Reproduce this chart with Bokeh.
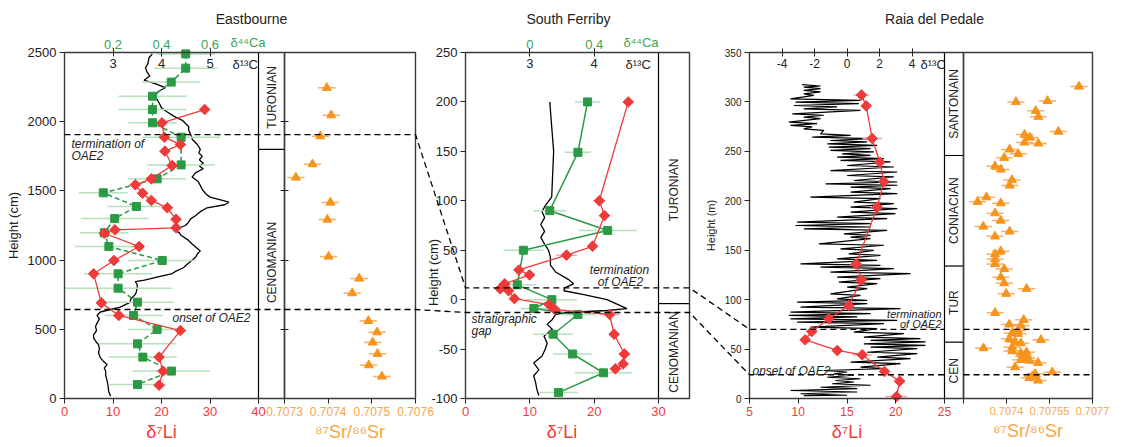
import math
from bokeh.plotting import figure
from bokeh.models import Range1d, LinearAxis, FixedTicker
from bokeh.embed import file_html
from bokeh.resources import INLINE
from bokeh.core.properties import value

FONT = "Liberation Sans"
RED, RED_L = "#ee3a3a", "#f6a0a0"
GREEN, GREEN_L, GREEN_T = "#2a9a45", "#b5e0bc", "#3aa655"
ORANGE, ORANGE_L, ORANGE_T = "#f7941d", "#f9b060", "#f7a548"
BOX = "#3a3a3a"

# ---------------- Eastbourne ----------------
e_li_h = [2088, 1992, 1888, 1835, 1787, 1683, 1587, 1544, 1483, 1431, 1378, 1295,
          1233, 1219, 1194, 1098, 997, 901, 691, 600, 491, 299, 198, 96]
e_li = [28.9, 20.1, 20.6, 23.9, 20.7, 22.2, 17.9, 14.6, 16.1, 17.9, 21.2, 23.0,
        23.0, 10.4, 8.2, 15.4, 10.2, 6.0, 7.6, 11.2, 23.9, 19.5, 20.3, 19.5]
e_ca_h = [2490, 2387, 2286, 2184, 2088, 1992, 1888, 1688, 1587, 1486, 1387, 1300,
          1197, 1098, 997, 901, 797, 696, 600, 499, 395, 299, 198, 101]
e_ca = [0.50, 0.50, 0.44, 0.363, 0.363, 0.363, 0.481, 0.481, 0.382, 0.16, 0.297, 0.207,
        0.164, 0.183, 0.403, 0.221, 0.221, 0.301, 0.285, 0.382, 0.301, 0.323, 0.441, 0.301]
e_ca_err = [0.12, 0.13, 0.12, 0.14, 0.14, 0.10, 0.16, 0.14, 0.12, 0.10, 0.12, 0.14,
            0.10, 0.14, 0.14, 0.14, 0.22, 0.15, 0.12, 0.12, 0.16, 0.14, 0.16, 0.12]
e_c13_h = [2490, 2460, 2420, 2390, 2360, 2330, 2300, 2270, 2245, 2220,
           2190, 2166, 2130, 2100, 2070, 2040, 2010, 1985, 1965, 1940,
           1907, 1870, 1835, 1800, 1775, 1750, 1725, 1700, 1680, 1660,
           1630, 1600, 1570, 1540, 1510, 1480, 1455, 1435, 1418, 1400,
           1378, 1350, 1320, 1298, 1270, 1250, 1230, 1215, 1200, 1180,
           1150, 1120, 1090, 1065, 1050, 1020, 990, 970, 945, 920,
           900, 880, 855, 845, 820, 800, 770, 752, 715, 696,
           660, 625, 600, 575, 550, 520, 490, 460, 438, 410,
           390, 360, 330, 294, 270, 246, 220, 197, 165, 125,
           90, 53, 17]
e_c13 = [3.81, 3.74, 3.72, 3.67, 3.70, 3.76, 3.64, 3.91, 4.08, 3.94,
         3.87, 3.90, 3.96, 4.00, 4.12, 4.25, 4.43, 4.50, 4.56, 4.56,
         4.60, 4.64, 4.74, 4.80, 4.77, 4.84, 4.78, 4.86, 4.78, 4.86,
         4.70, 4.63, 4.75, 4.80, 4.84, 4.91, 5.00, 5.22, 5.39, 5.30,
         4.94, 4.80, 4.70, 4.60, 4.55, 4.49, 4.36, 4.25, 4.36, 4.40,
         4.53, 4.62, 4.72, 4.80, 4.75, 4.70, 4.60, 4.53, 4.45, 4.30,
         4.20, 3.95, 3.65, 3.46, 3.50, 3.50, 3.48, 3.46, 3.36, 3.36,
         3.15, 2.74, 2.67, 2.72, 2.68, 2.64, 2.66, 2.60, 2.60, 2.65,
         2.70, 2.72, 2.70, 2.74, 2.80, 2.88, 2.82, 2.85, 2.85, 2.88,
         2.90, 2.91, 2.95]
e_sr_h = [2245, 2047, 1895, 1693, 1597, 1416, 1293, 1026, 867, 761, 561, 479, 405, 323, 241, 159]
e_sr = [0.707397, 0.707407, 0.707382, 0.707364, 0.707326, 0.707405, 0.707398, 0.707401,
        0.707471, 0.707455, 0.707492, 0.707512, 0.707502, 0.707513, 0.707493, 0.707523]
e_sr_err = 0.00002
e_stage_bounds = [1800]
e_stages = [("TURONIAN", 2175), ("CENOMANIAN", 983)]
e_termination, e_onset = 1907, 643

# ---------------- South Ferriby ----------------
sf_li_h = [200, 100, 85, 54, 45, 30, 25, 16, 11, 9, 1, -5, -10, -15, -35, -55, -65, -70]
sf_li = [25.3, 20.8, 21.6, 19.75, 15.7, 8.3, 9.95, 6.1, 5.4, 6.7, 7.6, 13.0, 13.9, 22.4, 23.1, 24.7, 24.5, 23.3]
sf_li_err = [0.6, 0.9, 0.5, 0.5, 1.6, 0.6, 0.5, 0.5, 0.9, 0.5, 0.5, 0.5, 0.5, 1.5, 0.5, 0.9, 0.6, 0.5]
sf_ca_h = [200, 149, 90, 70, 50, 15, 0, -9, -15, -35, -55, -74, -94]
sf_ca = [0.359, 0.299, 0.124, 0.484, -0.04, -0.078, 0.137, 0.025, 0.299, 0.145, 0.266, 0.458, 0.178]
sf_ca_err = [0.078, 0.081, 0.104, 0.18, 0.124, 0.117, 0.156, 0.083, 0.109, 0.122, 0.122, 0.178, 0.12]
sf_c13_h = [200, 150, 104, 94, 89, 83, 76, 69, 63, 56, 50, 43, 35, 28, 20, 16, 12, 9, 5, 0,
            -7, -9, -11, -13, -15, -20, -25, -30, -37, -44, -50, -57, -64, -71, -77, -84, -91, -97]
sf_c13 = [3.31, 3.37, 3.34, 3.23, 3.19, 3.23, 3.17, 3.23, 3.17, 3.23, 3.29, 3.32, 3.32, 3.40, 3.61, 3.68,
          3.54, 3.53, 3.84, 4.20, 4.44, 4.51, 4.20, 3.58, 3.40, 3.35, 3.27, 3.35, 3.22, 3.27, 3.24, 3.19,
          3.06, 3.14, 3.06, 3.09, 3.11, 3.14]
sf_stage_bounds = [-4]
sf_stages = [("TURONIAN", 111), ("CENOMANIAN", -53)]
sf_termination, sf_gap = 12, -13

# ---------------- Raia del Pedale ----------------
r_li_h = [307, 296, 263, 239, 219.5, 193.5, 136, 120, 94, 80.6, 67.8, 59.4, 48.6, 44.2, 27.3, 17.5, 2]
r_li = [16.49, 16.97, 17.58, 18.37, 18.78, 18.1, 15.94, 16.46, 15.18, 13.13, 11.39, 10.71, 14.0, 16.56, 18.85, 20.4, 20.08]
r_li_err = [0.8, 0.4, 1.0, 0.3, 0.3, 0.6, 0.6, 0.3, 0.3, 0.3, 0.3, 0.3, 0.3, 1.0, 0.3, 0.3, 1.1]
r_c13_h = [317.6, 316.1, 315.0, 313.5, 311.6, 310.1, 308.2, 306.7, 303.1, 301.6, 299.8, 298.3, 296.4, 294.9,
           293.0, 291.5, 288.0, 286.5, 284.6, 283.1, 279.5, 278.0, 276.2, 274.7, 272.8, 271.3, 267.7, 266.2,
           264.4, 262.9, 261.0, 259.5, 257.6, 256.1, 254.3, 252.8, 250.9, 249.4, 247.5, 246.0, 244.1, 242.6,
           240.8, 239.3, 235.7, 234.2, 230.6, 229.1, 225.6, 224.1, 220.5, 219.0, 217.2, 215.7, 213.8, 212.3,
           208.7, 207.2, 203.7, 202.2, 198.6, 197.1, 193.5, 192.0, 188.5, 187.0, 183.4, 181.9, 178.4, 176.9,
           175.0, 173.5, 171.6, 170.1, 166.6, 165.1, 163.2, 161.7, 156.5, 155.0, 151.4, 149.9, 146.3, 144.8,
           141.3, 139.8, 136.2, 134.7, 132.9, 131.4, 127.8, 126.3, 122.7, 121.2, 117.7, 116.2, 112.6, 111.1,
           105.9, 104.4, 100.8, 99.3, 97.4, 95.9, 92.4, 90.9, 87.3, 85.8, 84.0, 82.5, 80.6, 79.1, 77.2, 75.7,
           72.1, 70.6, 67.1, 65.6, 62.0, 60.5, 58.7, 57.2, 55.3, 53.8, 51.9, 50.4, 46.8, 45.3, 41.8, 40.3,
           36.7, 35.2, 31.7, 30.2, 28.3, 26.8, 25.0, 23.5, 21.5, 20.0, 18.2, 16.7, 14.9, 13.4, 11.4, 9.9,
           8.1, 6.6, 4.8, 3.3, 3.0]
r_c13 = [-2.76, -1.63, -2.66, -1.63, -2.66, -1.63, -2.66, -2.04, -3.48, 0.83, -3.17, 0.73, -3.27, -0.61,
         -2.66, 0.83, -3.37, -1.43, -2.66, -1.63, -3.58, -1.84, -3.48, -2.14, -2.66, -1.43, -1.63, 0.22,
         -2.14, 1.45, -1.02, 1.24, -1.22, 1.86, -1.12, 1.45, -1.02, 1.65, -0.30, 1.45, -0.61, 2.27,
         -0.40, 2.68, 0.01, 2.88, -1.02, 3.09, 0.01, 2.88, 0.42, 3.09, -1.32, 3.09, 0.22, 2.68,
         0.22, 3.09, -2.25, 2.06, 0.42, 2.88, 0.22, 3.09, 0.22, 2.98, -0.61, 2.47, -3.07, 1.45,
         -3.17, 1.45, -2.66, 2.47, -0.19, 1.45, 0.22, 1.45, -1.73, 2.27, -0.40, 1.65, 0.11, 2.06,
         -0.61, 1.86, -2.86, 2.06, -1.63, 2.88, -1.02, 3.91, -0.61, 2.06, -0.50, 1.86, 0.01, 1.24,
         -1.02, 0.83, -0.61, 1.24, -3.07, 1.24, -2.86, 3.29, -3.48, 1.45, -3.58, 0.63, -3.48, 3.09, -3.07, 2.27,
         -2.25, 1.86, 0.42, 3.50, 1.04, 4.52, 1.45, 4.83, 1.04, 4.83, 1.45, 4.32, 1.24, 4.32, 1.86, 3.91,
         0.22, 3.29, 0.83, 2.27, -1.43, 0.01, -0.81, 0.42, -1.22, 0.83, -0.71, 0.42, -0.91, 1.45, -1.63, 0.63,
         -3.48, 0.63, -2.86, 0.01, -2.66]
r_sr_h = [315.6, 301, 300, 291, 285, 270, 267, 264, 259, 258, 252, 247.5, 243.5, 235, 231.7, 221, 215.5,
          203.6, 199, 197.6, 187.5, 180, 174, 169, 164, 149, 146, 141, 136, 131, 122.7, 116.7, 111, 106,
          86.7, 79.6, 74.9, 73.8, 68.8, 66.1, 65.4, 59.3, 60.4, 57, 56, 50.9, 51.9, 47.9, 45.9, 46.9,
          42.5, 41.1, 39.1, 38.4, 36.1, 31.7, 26.6, 25, 20.9, 18.2, 22.3]
r_sr = [0.707653, 0.707543, 0.707433, 0.707502, 0.707511, 0.707581, 0.707463, 0.707482, 0.707463, 0.707511,
        0.707411, 0.707441, 0.707392, 0.70736, 0.70738, 0.707419, 0.707411, 0.70733, 0.707299, 0.70738,
        0.70736, 0.70738, 0.707319, 0.707411, 0.70736, 0.70738, 0.70736, 0.70736, 0.70736, 0.707392,
        0.70738, 0.707392, 0.70747, 0.707399, 0.70736, 0.70746, 0.70741, 0.70745, 0.70744, 0.70742,
        0.70744, 0.70752, 0.70741, 0.70743, 0.70745, 0.70732, 0.70742, 0.70742, 0.70745, 0.70747,
        0.70746, 0.70747, 0.70745, 0.70748, 0.70751, 0.70743, 0.70756, 0.70750, 0.70748, 0.70751, 0.70749]
r_sr_err = 0.00003
r_stage_bounds = [245.8, 134, 57]
r_stages = [("SANTONAIN", 298), ("CONIACIAN", 190), ("TUR", 97), ("CEN", 28)]
r_termination, r_onset = 70, 24

# ---------------- layout (page pixels; canvas sits at the page's top-left) ----------------
X0, X1, Y0, Y1 = 0, 1122, 0, 446
G = {
    "eli": (0, 64, 40, 258), "eca": (0, 64, 0.8, 258), "ec13": (2, 64, 6, 258),
    "esr": (0.7073, 284, 0.7076, 415), "eh": (0, 398, 2500, 52),
    "sli": (0, 465, 30, 658), "sca": (-0.4, 465, 0.8, 658), "sc13": (2, 465, 5, 658),
    "sh": (-100, 398, 250, 52),
    "rli": (5, 749, 25, 944), "rc13": (-6, 749, 6, 944), "rsr": (0.70725, 963, 0.7077, 1092),
    "rh": (0, 398, 350, 52),
}
XN = ["eli", "eca", "ec13", "esr", "sli", "sca", "sc13", "rli", "rc13", "rsr"]
YN = ["eh", "sh", "rh"]


def to_px(name, d):
    d0, p0, d1, p1 = G[name]
    return p0 + (d - d0) * (p1 - p0) / (d1 - d0)


def to_data(name, px):
    d0, p0, d1, p1 = G[name]
    return d0 + (px - p0) * (d1 - d0) / (p1 - p0)


p = figure(width=X1 - X0, height=Y1 - Y0, x_range=Range1d(X0, X1), y_range=Range1d(Y1, Y0),
           x_axis_type=None, y_axis_type=None, toolbar_location=None, output_backend="svg",
           min_border=0, outline_line_color=None, background_fill_color="white",
           border_fill_color="white")
p.extra_x_ranges = {k: Range1d(to_data(k, X0), to_data(k, X1)) for k in XN}
p.extra_y_ranges = {k: Range1d(to_data(k, Y1), to_data(k, Y0)) for k in YN}


def axis(side, xn, yn, ticks, fixed, bounds="auto", color="#222", size="13px", overrides=None,
         tin=0, tout=5, standoff=3, tick_color="#222", label=None, label_color="#222",
         label_size="17px", label_standoff=3):
    ax = LinearAxis(x_range_name=xn, y_range_name=yn, ticker=FixedTicker(ticks=ticks),
                    fixed_location=fixed, bounds=bounds, axis_line_color=None,
                    major_tick_in=tin, major_tick_out=tout, major_tick_line_color=tick_color,
                    major_tick_line_width=1, minor_tick_line_color=None,
                    major_label_text_color=color, major_label_text_font_size=size,
                    major_label_text_font=FONT, major_label_standoff=standoff)
    if overrides is not None:
        ax.major_label_overrides = overrides
    if label:
        ax.axis_label = label
        ax.axis_label_text_color = label_color
        ax.axis_label_text_font_size = label_size
        ax.axis_label_text_font = FONT
        ax.axis_label_text_font_style = "normal"
        ax.axis_label_standoff = label_standoff
    p.add_layout(ax, side)


def txt(x, y, s, size="12px", color="#222", align="left", baseline="middle", style="normal",
        angle=0.0, xn="default", yn="default"):
    p.text(x=[x], y=[y], text=[s], text_font=value(FONT), text_font_size=size, text_color=color,
           text_align=align, text_baseline=baseline, text_font_style=style, angle=angle,
           x_range_name=xn, y_range_name=yn)


def err(vals, errs, hs, xn, yn, color, width=1.5):
    if not isinstance(errs, list):
        errs = [errs] * len(vals)
    p.segment(x0=[v - e for v, e in zip(vals, errs)], x1=[v + e for v, e in zip(vals, errs)],
              y0=hs, y1=hs, x_range_name=xn, y_range_name=yn, line_color=color, line_width=width)


def diamonds(vals, hs, xn, yn):
    p.scatter(vals, hs, marker="square", angle=math.pi / 4, size=7.5, fill_color=RED,
              line_color=RED, x_range_name=xn, y_range_name=yn)


def squares(vals, hs, xn, yn):
    p.scatter(vals, hs, marker="square", size=8, fill_color=GREEN, line_color=GREEN,
              x_range_name=xn, y_range_name=yn)


def triangles(vals, hs, xn, yn):
    p.scatter(vals, hs, marker="triangle", size=9, fill_color=ORANGE, line_color=ORANGE,
              x_range_name=xn, y_range_name=yn)


def panel_box(xn, yn, left_px, right_px):
    d0, p0, d1, p1 = G[yn]
    p.quad(left=[to_data(xn, left_px)], right=[to_data(xn, right_px)], bottom=[d0], top=[d1],
           fill_color=None, line_color=BOX, line_width=1.4, x_range_name=xn, y_range_name=yn)


# ======== Eastbourne ========
p.line(e_c13, e_c13_h, x_range_name="ec13", y_range_name="eh", line_color="black", line_width=1.3)
err(e_ca, e_ca_err, e_ca_h, "eca", "eh", GREEN_L)
p.line(e_ca, e_ca_h, x_range_name="eca", y_range_name="eh", line_color=GREEN, line_width=1.5,
       line_dash="5 3")
squares(e_ca, e_ca_h, "eca", "eh")
p.line(e_li, e_li_h, x_range_name="eli", y_range_name="eh", line_color=RED, line_width=1.3)
diamonds(e_li, e_li_h, "eli", "eh")
err(e_sr, e_sr_err, e_sr_h, "esr", "eh", ORANGE_L)
triangles(e_sr, e_sr_h, "esr", "eh")

e_stage_r = to_data("eli", 284)
p.segment(x0=[40], x1=[40], y0=[0], y1=[2500], x_range_name="eli", y_range_name="eh",
          line_color="black", line_width=1.2)
p.segment(x0=[40] * len(e_stage_bounds), x1=[e_stage_r] * len(e_stage_bounds), y0=e_stage_bounds,
          y1=e_stage_bounds, x_range_name="eli", y_range_name="eh", line_color="black", line_width=1.2)
panel_box("eli", "eh", 64, 284)
panel_box("esr", "eh", 284, 415)
for name, h in e_stages:
    txt(to_data("eli", 271), h, name, angle=math.pi / 2, align="center", xn="eli", yn="eh")

axis("left", "eli", "eh", [0, 500, 1000, 1500, 2000, 2500], 0, (0, 2500), label="Height (cm)",
     label_size="13px", label_standoff=4)
axis("below", "eli", "eh", [0, 10, 20, 30, 40], 0, (0, 40), color=RED, label="δ⁷Li",
     label_color=RED, label_size="18px")
axis("above", "eca", "eh", [0.2, 0.4, 0.6], 2500, color=GREEN_T, tout=0, tick_color=None, standoff=4)
axis("below", "ec13", "eh", [3, 4, 5], 2500, tin=4, tout=4, standoff=2)
axis("left", "esr", "eh", [500, 1000, 1500, 2000], 0.7073, tin=4, tout=4,
     overrides={500: "", 1000: "", 1500: "", 2000: ""})
axis("below", "esr", "eh", [0.7073, 0.7074, 0.7075, 0.7076], 0, (0.7073, 0.7076), color=ORANGE_T,
     size="12px", overrides={0.7073: "0.7073", 0.7074: "0.7074", 0.7075: "0.7075", 0.7076: "0.7076"},
     label="⁸⁷Sr/⁸⁶Sr", label_color=ORANGE_T, label_size="18px")

# ======== South Ferriby ========
p.line(sf_c13, sf_c13_h, x_range_name="sc13", y_range_name="sh", line_color="black", line_width=1.3)
err(sf_ca, sf_ca_err, sf_ca_h, "sca", "sh", GREEN_L)
p.line(sf_ca, sf_ca_h, x_range_name="sca", y_range_name="sh", line_color=GREEN, line_width=1.5)
squares(sf_ca, sf_ca_h, "sca", "sh")
err(sf_li, sf_li_err, sf_li_h, "sli", "sh", RED_L)
p.line(sf_li, sf_li_h, x_range_name="sli", y_range_name="sh", line_color=RED, line_width=1.3)
diamonds(sf_li, sf_li_h, "sli", "sh")

sf_stage_r = to_data("sli", 689)
p.segment(x0=[30], x1=[30], y0=[-100], y1=[250], x_range_name="sli", y_range_name="sh",
          line_color="black", line_width=1.2)
p.segment(x0=[30] * len(sf_stage_bounds), x1=[sf_stage_r] * len(sf_stage_bounds), y0=sf_stage_bounds,
          y1=sf_stage_bounds, x_range_name="sli", y_range_name="sh", line_color="black", line_width=1.2)
panel_box("sli", "sh", 465, 689)
for name, h in sf_stages:
    txt(to_data("sli", 673.5), h, name, angle=math.pi / 2, align="center", xn="sli", yn="sh")

axis("left", "sli", "sh", [-100, -50, 0, 50, 100, 150, 200, 250], 0, (-100, 250),
     overrides={-100: "-100", -50: "-50"})
txt(433, 272, "Height (cm)", size="13px", angle=math.pi / 2, align="center")
axis("below", "sli", "sh", [0, 10, 20, 30], -100, (0, 30), color=RED, label="δ⁷Li",
     label_color=RED, label_size="18px")
axis("above", "sca", "sh", [0, 0.4], 250, color=GREEN_T, tout=0, tick_color=None, standoff=4)
axis("below", "sc13", "sh", [3, 4], 250, tin=4, tout=4, standoff=2)

# ======== Raia del Pedale ========
p.line(r_c13, r_c13_h, x_range_name="rc13", y_range_name="rh", line_color="black", line_width=1.2)
err(r_li, r_li_err, r_li_h, "rli", "rh", RED_L)
p.line(r_li, r_li_h, x_range_name="rli", y_range_name="rh", line_color=RED, line_width=1.3)
diamonds(r_li, r_li_h, "rli", "rh")
err(r_sr, r_sr_err, r_sr_h, "rsr", "rh", ORANGE_L)
triangles(r_sr, r_sr_h, "rsr", "rh")

r_stage_r = to_data("rli", 963)
p.segment(x0=[25] * len(r_stage_bounds), x1=[r_stage_r] * len(r_stage_bounds), y0=r_stage_bounds,
          y1=r_stage_bounds, x_range_name="rli", y_range_name="rh", line_color="black", line_width=1.2)
p.segment(x0=[25], x1=[25], y0=[0], y1=[350], x_range_name="rli", y_range_name="rh",
          line_color="black", line_width=1.2)
panel_box("rli", "rh", 749, 963)
panel_box("rsr", "rh", 963, 1092)
for name, h in r_stages:
    txt(to_data("rli", 953.5), h, name, angle=math.pi / 2, align="center", xn="rli", yn="rh")

axis("left", "rli", "rh", [0, 50, 100, 150, 200, 250, 300, 350], 5, (0, 350), size="10px",
     label="Height (m)", label_size="11px", label_standoff=5)
axis("below", "rli", "rh", [5, 10, 15, 20, 25], 0, (5, 25), color=RED, size="12px", label="δ⁷Li",
     label_color=RED, label_size="18px")
axis("below", "rc13", "rh", [-4, -2, 0, 2, 4], 350, tin=4, tout=4, standoff=2, size="12px",
     overrides={-4: "-4", -2: "-2", 0: "0", 2: "2", 4: "4"})
axis("below", "rsr", "rh", [0.70725, 0.7074, 0.70755, 0.7077], 0, (0.70725, 0.7077), color=ORANGE_T,
     size="11px", overrides={0.70725: "", 0.7074: "0.7074", 0.70755: "0.70755", 0.7077: "0.7077"},
     label="⁸⁷Sr/⁸⁶Sr", label_color=ORANGE_T, label_size="18px")

# ======== correlation lines (dashed) ========
yt_e, yo_e = to_px("eh", e_termination), to_px("eh", e_onset)
yt_s, yg_s = to_px("sh", sf_termination), to_px("sh", sf_gap)
yt_r, yo_r = to_px("rh", r_termination), to_px("rh", r_onset)
p.multi_line(xs=[[64, 415, 465, 689, 749, 944], [64, 415, 465, 689, 749, 944],
                 [963, 1092], [963, 1092]],
             ys=[[yt_e, yt_e, yt_s, yt_s, yt_r, yt_r], [yo_e, yo_e, yg_s, yg_s, yo_r, yo_r],
                 [yt_r, yt_r], [yo_r, yo_r]],
             line_color="black", line_width=1.3, line_dash="6 4")

# ======== titles and labels ========
txt(251, 18, "Eastbourne", size="14px", align="center")
txt(568, 18, "South Ferriby", size="14px", align="center")
txt(934, 18, "Raia del Pedale", size="14px", align="center")
txt(230, 42, "δ⁴⁴Ca", size="13px", color=GREEN_T)
txt(623, 42, "δ⁴⁴Ca", size="13px", color=GREEN_T)
txt(232, 64, "δ¹³C", size="13px")
txt(625, 64, "δ¹³C", size="13px")
txt(920, 64, "δ¹³C", size="13px")

txt(71, 143, "termination of", style="italic")
txt(71, 155, "OAE2", style="italic")
txt(250, 317, "onset of OAE2", style="italic", align="right")
txt(619, 269, "termination", style="italic", align="center")
txt(620, 281, "of OAE2", style="italic", align="center")
txt(471, 318, "stratigraphic", style="italic")
txt(471, 330, "gap", style="italic")
txt(941, 313, "termination", size="11px", style="italic", align="right")
txt(941, 323, "of OAE2", size="11px", style="italic", align="right")
txt(752, 370, "onset of OAE2", style="italic")

open("out.html", "w").write(file_html(p, INLINE))
